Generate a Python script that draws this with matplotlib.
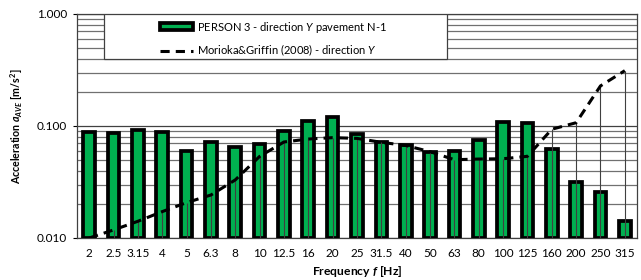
import numpy as np
import matplotlib
matplotlib.use('Agg')
import matplotlib.pyplot as plt
from matplotlib.patches import Rectangle
from matplotlib.ticker import FixedLocator, LogLocator, NullFormatter

plt.rcParams['font.family'] = ['Lato', 'DejaVu Sans']
plt.rcParams['mathtext.fontset'] = 'custom'
plt.rcParams['mathtext.rm'] = 'Lato'
plt.rcParams['mathtext.it'] = 'Lato:italic'
plt.rcParams['mathtext.bf'] = 'Lato:bold:italic'
plt.rcParams['mathtext.sf'] = 'Lato:bold'

freqs = ['2', '2.5', '3.15', '4', '5', '6.3', '8', '10', '12.5', '16', '20', '25',
         '31.5', '40', '50', '63', '80', '100', '125', '160', '200', '250', '315']
person3 = [0.088, 0.086, 0.093, 0.088, 0.060, 0.0715, 0.0645, 0.0695, 0.090, 0.111,
           0.121, 0.085, 0.072, 0.0676, 0.058, 0.060, 0.075, 0.109, 0.107, 0.062,
           0.0316, 0.0256, 0.0141]
morioka = [0.0100, 0.0118, 0.0141, 0.0172, 0.0207, 0.0242, 0.033, 0.0535, 0.072, 0.0765,
           0.0787, 0.0775, 0.0715, 0.067, 0.059, 0.050, 0.0507, 0.051, 0.0536, 0.0935,
           0.107, 0.228, 0.312]

ymin = 0.01
x = np.arange(len(freqs))

fig = plt.figure(figsize=(6.41, 2.80), dpi=100)
ax = fig.add_axes([77/641, 1-238/280, 560/641, 224/280])

bars = ax.bar(x, np.array(person3) - ymin, bottom=ymin, width=0.48, color='#00B050',
              edgecolor='black', linewidth=2.7, zorder=3)
ax.vlines(x, ymin, morioka, color='#404040', linewidth=0.8, zorder=4)
line, = ax.plot(x, morioka, color='black', linewidth=2.2, dashes=(3, 2), zorder=5)

ax.set_yscale('log')
ax.set_ylim(0.01, 1.0)
ax.set_xlim(-0.5, len(freqs) - 0.5)
ax.yaxis.set_major_locator(FixedLocator([0.01, 0.1, 1.0]))
ax.set_yticklabels(['0.010', '0.100', '1.000'])
ax.yaxis.set_minor_locator(LogLocator(base=10, subs=np.arange(2, 10)))
ax.yaxis.set_minor_formatter(NullFormatter())
ax.set_xticks(x)
ax.set_xticklabels(freqs)
ax.tick_params(axis='x', length=0, pad=7, labelsize=8.5)
ax.tick_params(axis='y', which='major', length=3, pad=4, labelsize=8.5)
ax.tick_params(axis='y', which='minor', length=0)

ax.grid(axis='y', which='major', color='#404040', linewidth=0.9, zorder=0)
ax.grid(axis='y', which='minor', color='#707070', linewidth=0.9, zorder=0)
ax.set_axisbelow(True)
for s in ax.spines.values():
    s.set_color('#404040')
    s.set_linewidth(0.9)

ax.set_xlabel('Frequency $\\mathbf{f}$ [Hz]', fontweight='bold', fontsize=8.7, labelpad=4)
ax.set_ylabel('Acceleration $\\mathbf{a_{AVE}}$ [m/s$^{\\mathsf{2}}$]', fontweight='bold',
              fontsize=7.7, labelpad=9)

# legend frame drawn separately so the entries can sit centred like Excel
box = Rectangle((27/560, 179/224), 343/560, 45/224, transform=ax.transAxes,
                facecolor='white', edgecolor='#404040', linewidth=0.9, zorder=8)
ax.add_patch(box)
leg = ax.legend([bars, line],
                ['PERSON 3 - direction $Y$ pavement N-1',
                 'Morioka&Griffin (2008) - direction $Y$'],
                loc='upper left', bbox_to_anchor=(83/560, 0.975),
                fontsize=8, frameon=False, handlelength=3.0, handleheight=0.6,
                borderpad=0, labelspacing=0.75, borderaxespad=0, handletextpad=0.3)
leg.set_zorder(10)

fig.savefig('out.png', dpi=100)
